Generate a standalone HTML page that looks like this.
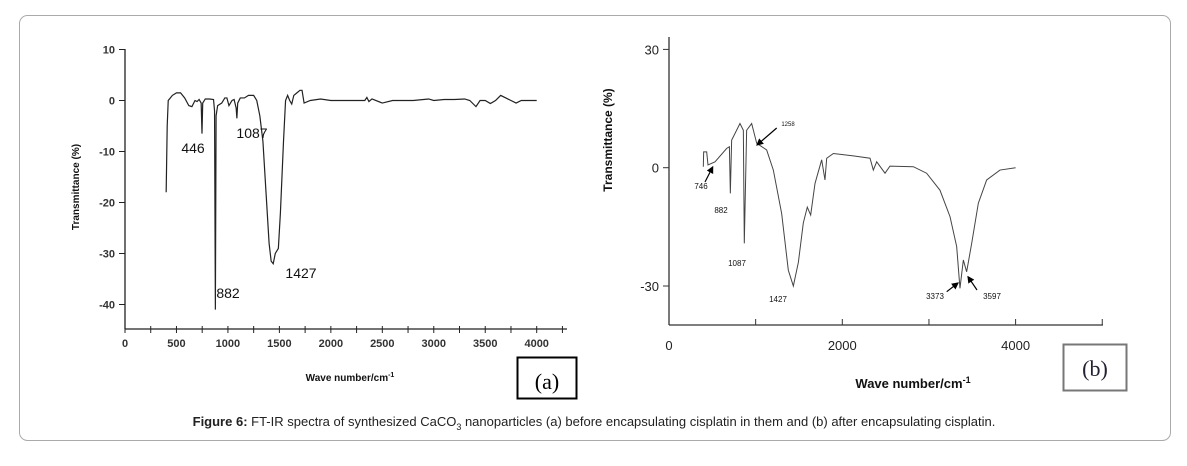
<!DOCTYPE html>
<html><head><meta charset="utf-8"><style>
body{margin:0;background:#fff;width:1187px;height:461px;overflow:hidden;font-family:"Liberation Sans",sans-serif}
</style></head><body>
<svg id="s" width="1187" height="461" xmlns="http://www.w3.org/2000/svg">
<rect x="19.5" y="15.5" width="1151" height="425" rx="8" fill="#fff" stroke="#aaa"/>
<rect x="517.5" y="357.5" width="59" height="41" fill="#fff" stroke="#000" stroke-width="2"/>
<text x="547" y="389" font-family="Liberation Serif,serif" font-size="22" text-anchor="middle">(a)</text>
<rect x="1063.5" y="344.5" width="63" height="46" fill="#fff" stroke="#777" stroke-width="2"/>
<text x="1095" y="376" font-family="Liberation Serif,serif" font-size="22" text-anchor="middle" fill="#223">(b)</text>
<text x="594" y="426" font-size="13" text-anchor="middle" fill="#222"><tspan font-weight="bold">Figure 6:</tspan> FT-IR spectra of synthesized CaCO<tspan font-size="9" dy="4">3</tspan><tspan dy="-4"> nanoparticles (a) before encapsulating cisplatin in them and (b) after encapsulating cisplatin.</tspan></text>
<g id="ga"></g><g id="gb"></g>
</svg>
<script>
const aWave=[400,410,420,440,460,500,540,580,620,650,680,700,720,740,748,755,780,820,860,870,878,885,900,940,970,990,1010,1040,1060,1080,1087,1095,1120,1160,1200,1250,1280,1310,1340,1370,1400,1420,1440,1460,1490,1510,1540,1560,1580,1600,1620,1640,1670,1700,1720,1740,1800,1900,2000,2200,2330,2350,2370,2400,2500,2600,2800,2950,3000,3100,3200,3300,3350,3410,3450,3500,3550,3600,3650,3700,3750,3800,3850,4000];
const aTrans=[-18,-5,0,0.5,1,1.5,1.5,0.5,-1,-1.2,0,-0.2,0.2,-0.5,-6.5,-0.5,0.3,0.3,0.2,-2,-41,-3,-1,-0.5,0.5,0.5,-1,0,0.2,-1.5,-3.5,-0.5,0.5,0.5,1,1,0,-3,-8,-18,-28,-31.5,-32,-30,-29,-22,-8,0,1,0,-0.7,1,1.5,2,2,-0.5,0,0.3,0,0,0,0.6,-0.2,0.3,-0.5,0,0,0.3,0,0.2,0.2,0.3,0,-1.2,0,0,-0.6,0,1,0.5,0,-0.5,0,0];
const aYTicks=[10,0,-10,-20,-30,-40];
const aXTicks=[0,500,1000,1500,2000,2500,3000,3500,4000];
const bWave=[396,400,435,450,531,666,697,708,723,819,858,869,896,954,1012,1127,1204,1300,1377,1435,1493,1550,1596,1635,1685,1762,1800,1820,1897,2127,2320,2358,2397,2493,2550,2820,2973,3127,3243,3320,3358,3397,3435,3493,3570,3666,3820,4000];
const bTrans=[0.25,4,4,0.7,1.5,4.9,5.3,-6.5,7,11.2,9.5,-19.2,9.5,11.2,6.2,4.5,-0.6,-11.6,-26,-30,-24,-14,-10,-12,-4,2,-3.1,2.4,3.6,3,2.4,-0.6,1.5,-1.4,0.4,0.25,-1.4,-5.7,-12.4,-20,-30.6,-23.4,-26.4,-19.2,-9,-3.1,-0.6,0];
const bYTicks=[30,0,-30];
const bXTicks=[0,2000,4000];
const NS="http://www.w3.org/2000/svg";
function mk(p,t,a){const e=document.createElementNS(NS,t);for(const k in a)e.setAttribute(k,a[k]);p.appendChild(e);return e;}
// panel a
const ga=document.getElementById('ga');
const ax=v=>125+v*411.7/4000, ay=v=>100.5-v*5.1;
let e;
e=mk(ga,'line',{x1:125,y1:49,x2:125,y2:329,stroke:'#222','stroke-width':1.3});


e=mk(ga,'line',{x1:125,y1:329,x2:567,y2:329,stroke:'#222','stroke-width':1.3});


aYTicks.forEach(v=>{mk(ga,'line',{x1:119,x2:125,y1:ay(v),y2:ay(v),stroke:'#222'});
 e=mk(ga,'text',{x:115,y:ay(v)+4,'font-size':11,'font-weight':'bold','text-anchor':'end',fill:'#333'});e.textContent=v;
 
 });
for(let v=0;v<=4250;v+=250){mk(ga,'line',{x1:ax(v),x2:ax(v),y1:326,y2:333,stroke:'#222'});}
aXTicks.forEach(v=>{e=mk(ga,'text',{x:ax(v),y:347,'font-size':11,'font-weight':'bold','text-anchor':'middle',fill:'#333'});e.textContent=v;
 
 });
e=mk(ga,'polyline',{points:aWave.map((w,i)=>ax(w)+','+ay(aTrans[i])).join(' '),fill:'none',stroke:'#222','stroke-width':1.2});


[['446',193,153],['1087',252,138],['882',228,298],['1427',301,278]].forEach(t=>{e=mk(ga,'text',{x:t[1],y:t[2],'font-size':14,'text-anchor':'middle',fill:'#111'});e.textContent=t[0];
 
 });
e=mk(ga,'text',{x:79,y:187,'font-size':10,'font-weight':'bold','text-anchor':'middle',transform:'rotate(-90 79 187)',fill:'#111'});e.textContent='Transmittance (%)';


e=mk(ga,'text',{x:350,y:381,'font-size':10,'font-weight':'bold','text-anchor':'middle',fill:'#111'});e.innerHTML='Wave number/cm<tspan font-size="7" dy="-4">-1</tspan>';


// panel b
const gb=document.getElementById('gb');
const bx=v=>669+v*173.3/2000, by=v=>167.7-v*118.3/30;
e=mk(gb,'line',{x1:669,y1:37,x2:669,y2:325,stroke:'#333','stroke-width':1.3});


e=mk(gb,'line',{x1:669,y1:325,x2:1103,y2:325,stroke:'#333','stroke-width':1.3});


bYTicks.forEach(v=>{mk(gb,'line',{x1:663,x2:669,y1:by(v),y2:by(v),stroke:'#333'});
 e=mk(gb,'text',{x:659,y:by(v)+5,'font-size':13,'text-anchor':'end',fill:'#222'});e.textContent=v;
 
 });
for(let v=0;v<=5000;v+=1000){mk(gb,'line',{x1:bx(v),x2:bx(v),y1:319,y2:325,stroke:'#333'});}
bXTicks.forEach(v=>{e=mk(gb,'text',{x:bx(v),y:350,'font-size':13,'text-anchor':'middle',fill:'#222'});e.textContent=v;
 
 });
e=mk(gb,'polyline',{points:bWave.map((w,i)=>bx(w)+','+by(bTrans[i])).join(' '),fill:'none',stroke:'#444','stroke-width':1});


[['746',701,189,8],['882',721,213,8],['1087',737,266,8],['1427',778,302,8],['1258',788,126,6],['3373',935,299,8],['3597',992,299,8]].forEach(t=>{e=mk(gb,'text',{x:t[1],y:t[2],'font-size':t[3],'text-anchor':'middle',fill:'#111'});e.textContent=t[0];
 
 });
mk(gb,'defs',{}).innerHTML='<marker id="ar" markerWidth="6" markerHeight="6" refX="5" refY="3" orient="auto"><path d="M0,0 L6,3 L0,6z" fill="#000"/></marker>';
[[705,182,712.7,167],[776.7,128,757,145],[946.7,291.7,958,283],[977,290,968,276.7]].forEach(a=>{e=mk(gb,'line',{x1:a[0],y1:a[1],x2:a[2],y2:a[3],stroke:'#000','stroke-width':1.2,'marker-end':'url(#ar)'});
 
 });
e=mk(gb,'text',{x:612,y:140,'font-size':12,'font-weight':'bold','text-anchor':'middle',transform:'rotate(-90 612 140)',fill:'#111'});e.textContent='Transmittance (%)';


e=mk(gb,'text',{x:913,y:388,'font-size':13,'font-weight':'bold','text-anchor':'middle',fill:'#111'});e.innerHTML='Wave number/cm<tspan font-size="9" dy="-5">-1</tspan>';


</script>
</body></html>
